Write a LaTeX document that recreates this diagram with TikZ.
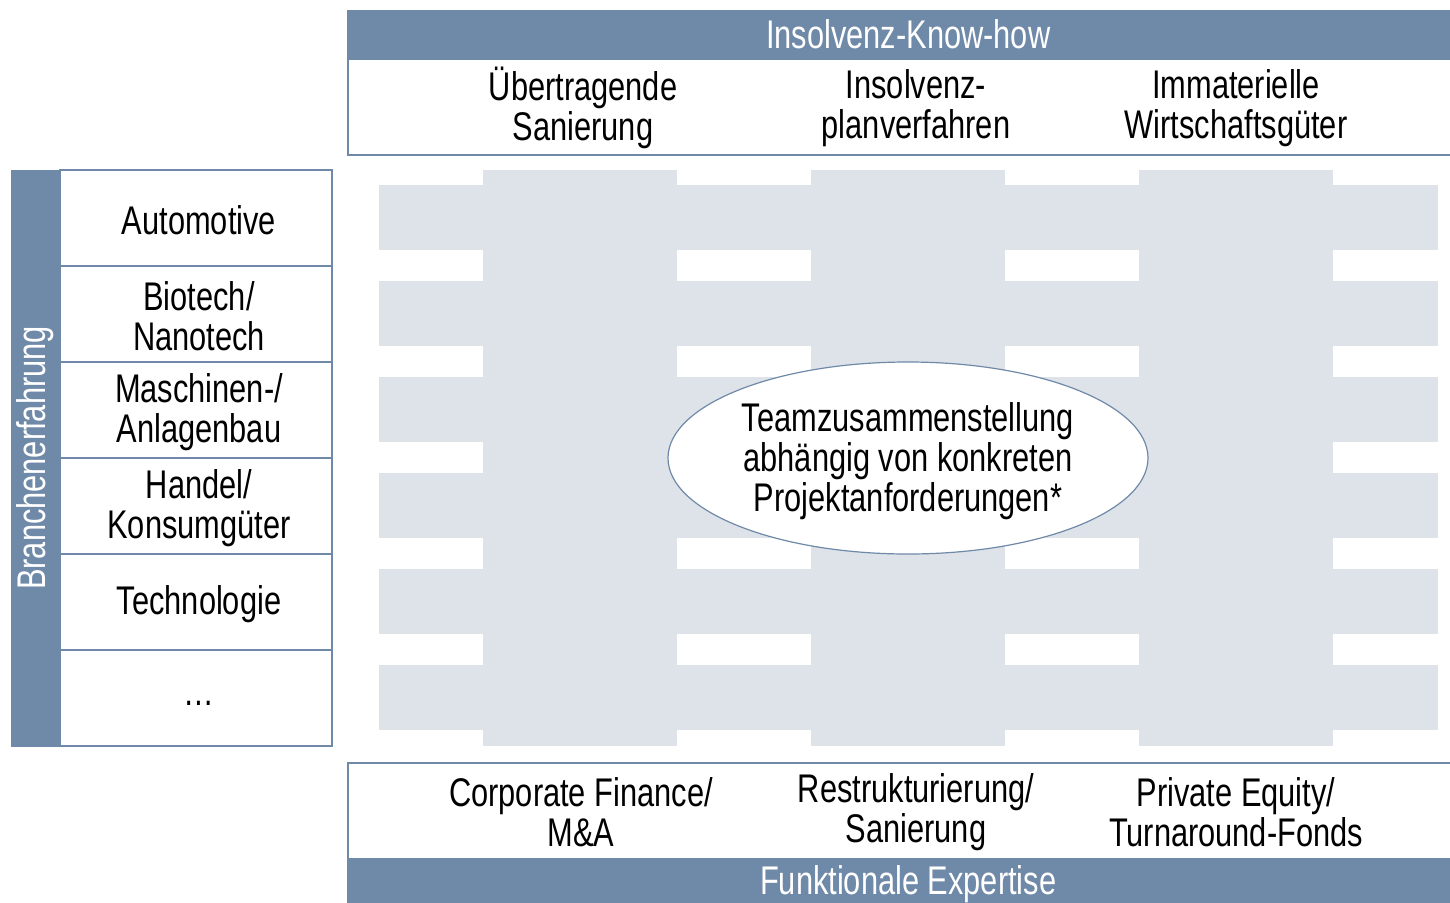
\documentclass[tikz,border=0pt]{standalone}
\usepackage{fontspec}
\setmainfont{Liberation Sans}[FakeStretch=0.77]
\usetikzlibrary{shapes.geometric, positioning}

\definecolor{barblue}{RGB}{111,137,168}
\definecolor{gridgrey}{RGB}{222,227,233}

\tikzset{
  bar/.style={fill=barblue, draw=barblue, text=white, inner sep=0pt},
  frame/.style={draw=barblue, fill=white, line width=1.5pt, inner sep=0pt},
  cell/.style={frame, minimum width=272pt, minimum height=96pt},
  lbl/.style={align=center, inner sep=0pt},
}

\begin{document}
\begin{tikzpicture}[x=1pt, y=-1pt, font=\fontsize{40}{40}\selectfont]
    \useasboundingbox (0,0) rectangle (1450,902);

    % grey matrix behind
    \foreach \y in {185,281,...,666} {
        \fill[gridgrey] (379,\y) rectangle (1438,\y+65);
    };
    \foreach \x in {483,811,1139} {
        \fill[gridgrey] (\x,170) rectangle (\x+194,746);
    };

    % top: Insolvenz-Know-how
    \node[bar, anchor=north west, minimum width=1122pt, minimum height=48pt] at (347,10) (knowhow) {Insolvenz-Know-how};
    \node[frame, anchor=north west, minimum width=1122pt, minimum height=96pt] at (347,58) (topbox) {};
    \node[lbl] at (583,108) (top1) {Übertragende\\Sanierung};
    \node[lbl] at (916,108) (top2) {Insolvenz-\\planverfahren};
    \node[lbl] at (1236,108) (top3) {Immaterielle\\Wirtschaftsgüter};

    % left: Branchenerfahrung
    \node[bar, rotate=90, minimum width=576pt, minimum height=49pt] at (35.5,458) (branche) {Branchenerfahrung};
    \foreach \t [count=\i] in {Automotive, {Biotech/\\Nanotech}, {Maschinen-/\\Anlagenbau},
                               {Handel/\\Konsumgüter}, Technologie, \raisebox{-10pt}{\ldots}} {
        \node[cell] at (196,122+96*\i) (cell\i) {};
        \node[lbl] at (199,124+96*\i) (name\i) {\t};
    };

    % bottom: Funktionale Expertise
    \node[frame, anchor=north west, minimum width=1122pt, minimum height=96pt] at (347,762) (botbox) {};
    \node[bar, anchor=north west, minimum width=1122pt, minimum height=52pt] at (347,858) (expertise) {Funktionale Expertise};
    \node[lbl] at (581,812) (bot1) {Corporate Finance/\\M\&A};
    \node[lbl] at (916,812) (bot2) {Restrukturierung/\\Sanierung};
    \node[lbl] at (1236,812) (bot3) {Private Equity/\\Turnaround-Fonds};

    % team in the middle
    \node[ellipse, draw=barblue, fill=white, line width=1.2pt, minimum width=480pt, minimum height=192pt,
          align=center, inner sep=0pt] at (908,458) (team) {};
    \node[lbl] at (908,461) (teamtext) {Teamzusammenstellung\\abhängig von konkreten\\Projektanforderungen*};
\end{tikzpicture}
\end{document}
